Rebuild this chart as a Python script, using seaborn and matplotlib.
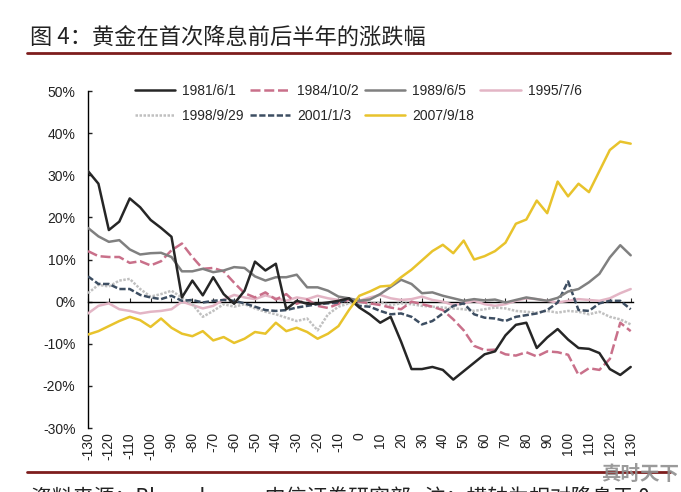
import seaborn as sns
import matplotlib.pyplot as plt
from matplotlib.lines import Line2D
from matplotlib.ticker import PercentFormatter

# relative trading days around the first rate cut
days = list(range(-130, 131, 5))

# gold price change (%) for each cut date, every 5 days
s1981 = [31.0, 28.0, 17.0, 19.0, 24.5, 22.4, 19.4, 17.5, 15.4, 1.0, 5.0, 1.5, 5.8, 1.8,
         -0.5, 2.6, 9.5, 7.4, 9.0, -1.8, 0.2, -0.5, -0.5, -0.2, 0.2, 0.8, -1.4, -3.0,
         -5.0, -3.6, -9.5, -16.0, -16.0, -15.5, -16.2, -18.5, -16.5, -14.5, -12.5, -11.8,
         -8.0, -5.5, -5.0, -11.0, -8.5, -6.5, -9.0, -11.0, -11.2, -12.2, -16.0, -17.4, -15.5]
s1984 = [12.0, 10.8, 10.6, 10.6, 9.2, 9.6, 8.6, 9.6, 12.2, 13.8, 10.6, 7.8, 8.0, 7.2,
         4.5, 2.0, 1.0, 2.2, 0.5, 1.8, -0.5, 0.5, -1.0, -1.5, -0.5, 0.5, 0.0, -0.4,
         -0.8, -1.4, -1.8, 0.0, -0.6, -1.2, -2.0, -4.2, -6.8, -10.5, -11.5, -11.4,
         -12.5, -12.8, -12.0, -13.0, -11.8, -12.0, -12.6, -17.4, -15.8, -16.2, -13.6, -5.0, -7.0]
s1989 = [17.5, 15.5, 14.2, 14.6, 12.4, 11.2, 11.5, 11.6, 10.6, 7.2, 7.2, 7.8, 7.0, 7.4,
         8.2, 8.0, 6.0, 5.0, 5.8, 5.8, 6.4, 3.4, 3.4, 2.6, 1.2, 0.8, 0.2, 0.5,
         1.8, 3.5, 5.2, 4.2, 2.0, 2.2, 1.4, 0.8, 0.2, 0.6, 0.3, 0.5,
         -0.2, 0.4, 1.0, 0.6, 0.2, 0.9, 2.4, 3.0, 4.6, 6.6, 10.5, 13.4, 11.0]
s1995 = [-2.8, -1.0, -0.4, -1.8, -2.2, -2.8, -2.4, -2.2, -1.8, 0.0, -0.8, -1.6, -1.0, 0.5,
         1.6, 1.0, 0.6, 1.5, 0.8, 0.2, 1.0, 0.6, 1.4, 0.8, 0.4, 0.6, 0.2, 1.0,
         1.6, 0.8, 0.4, 0.6, 1.2, 0.4, 0.0, -0.8, -0.4, 0.2, -0.6, -1.0,
         -0.6, 0.2, 0.8, 0.6, 0.2, -0.2, 0.2, 0.6, 0.4, 0.2, 0.8, 2.0, 3.0]
s1998 = [2.0, 4.0, 3.6, 5.0, 5.4, 3.0, 1.2, 1.8, 2.6, 1.0, -0.6, -3.6, -2.2, -0.6,
         -1.2, -0.6, -1.6, -2.4, -3.0, -3.8, -4.6, -4.0, -6.8, -3.0, -1.2, -0.4, 0.0, -0.6,
         -0.2, -0.8, -0.4, -0.6, -1.0, -1.2, -1.4, -1.6, -1.8, -2.2, -1.8, -1.4,
         -1.6, -2.2, -2.4, -2.6, -2.2, -2.6, -2.2, -2.4, -3.0, -2.4, -3.6, -4.2, -5.4]
s2001 = [6.0, 4.2, 4.2, 3.0, 3.0, 1.6, 1.0, 0.6, 1.4, 0.2, 0.4, -0.2, 0.2, 0.4,
         0.2, -0.4, -1.2, -2.0, -2.2, -2.0, -1.4, -1.0, -0.6, -0.4, -0.2, 0.6, -1.0, -1.2,
         -2.2, -3.0, -2.8, -3.6, -5.4, -4.6, -2.8, -1.0, -0.4, -3.0, -3.8, -4.0,
         -4.6, -3.6, -3.2, -2.8, -2.0, -0.2, 4.8, -2.0, -2.2, -0.4, 0.2, 0.2, -1.8]
s2007 = [-7.8, -7.0, -5.8, -4.6, -3.6, -4.4, -6.0, -4.0, -6.2, -7.6, -8.2, -7.0, -9.2, -8.4,
         -9.8, -8.8, -7.2, -7.6, -5.0, -7.0, -6.2, -7.2, -8.8, -7.6, -5.8, -2.0, 1.4, 2.4,
         3.6, 3.8, 5.8, 7.6, 9.8, 12.0, 13.5, 11.5, 14.5, 10.0, 10.8, 12.0,
         14.0, 18.5, 19.5, 24.0, 21.0, 28.5, 25.0, 28.0, 26.0, 31.0, 36.0, 38.0, 37.5]

labels = ['1981/6/1', '1984/10/2', '1989/6/5', '1995/7/6', '1998/9/29', '2001/1/3', '2007/9/18']
series = [s1981, s1984, s1989, s1995, s1998, s2001, s2007]
colors = ['#262626', '#c9708a', '#808080', '#e3b5c5', '#c0c0c0', '#3d4e62', '#e8c32c']
styles = ['-', (0, (4, 1.5)), '-', '-', (0, (1, 0.6)), (0, (2.5, 1)), '-']
zorders = [6, 4, 5, 3, 3.5, 4.5, 7]

sns.set_style('white')
plt.rcParams['font.family'] = ['Liberation Sans', 'Noto Sans CJK SC', 'DejaVu Sans']
plt.rcParams['axes.unicode_minus'] = False

fig = plt.figure(figsize=(6.81, 4.92), dpi=100)
ax = fig.add_axes([0.1292, 0.130, 0.800, 0.685])

for lab, vals, c, ls, z in zip(labels, series, colors, styles, zorders):
    sns.lineplot(x=days, y=vals, ax=ax, color=c, linestyle=ls, linewidth=1.8,
                 label=lab, zorder=z)

ax.set_xlim(-130, 131)
ax.set_ylim(-30, 50)
ax.set_yticks(range(-30, 51, 10))
ax.yaxis.set_major_formatter(PercentFormatter(xmax=100, decimals=0))
ax.tick_params(axis='y', direction='in', length=3, width=1, pad=9,
               labelsize=10, colors='#222222', left=True)

# zero line with small ticks, labels pushed to the bottom
ax.spines['bottom'].set_position(('data', 0))
ax.spines['bottom'].set_color('black')
ax.spines['bottom'].set_linewidth(1)
ax.spines['left'].set_color('black')
ax.spines['left'].set_linewidth(1)
ax.spines['top'].set_visible(False)
ax.spines['right'].set_visible(False)
ax.set_xticks(range(-130, 131, 10))
ax.tick_params(axis='x', direction='in', length=3, width=0.8, bottom=True, labelbottom=False)

sec = ax.secondary_xaxis(0)
sec.set_xticks(range(-130, 131, 10))
sec.spines['bottom'].set_visible(False)
sec.tick_params(axis='x', length=0, pad=3, labelsize=10, rotation=90, colors='#222222')
ax.set_xlabel('')
ax.set_ylabel('')

# legend: 4 columns filled row-wise
handles, labs = ax.get_legend_handles_labels()
order = [0, 4, 1, 5, 2, 6, 3]
ax.legend([handles[i] for i in order], [labs[i] for i in order], ncol=4,
          loc='upper left', bbox_to_anchor=(0.086, 1.022), frameon=False,
          fontsize=10, handlelength=2.9, handletextpad=0.5, columnspacing=0.45,
          labelspacing=0.8, borderpad=0, borderaxespad=0)

cjk = ['Noto Sans CJK SC', 'DejaVu Sans']
fig.text(0.044, 0.923, '图 4：黄金在首次降息前后半年的涨跌幅', fontsize=16,
         family=cjk, color='#222222', va='center', ha='left')
fig.add_artist(Line2D([0.04, 0.984], [0.892, 0.892], color='#7d1d1d', lw=2))
fig.add_artist(Line2D([0.04, 0.984], [0.041, 0.041], color='#7d1d1d', lw=2))
fig.text(0.046, 0.012, '资料来源：Bloomberg，中信证券研究部   注：横轴为相对降息于 0',
         fontsize=15, family=cjk, color='#222222', va='top', ha='left')
fig.text(0.997, 0.036, '真时天下', fontsize=14, family=cjk, fontweight='bold',
         color='#8f8f8f', va='center', ha='right', alpha=0.9)

fig.savefig('out.png', dpi=100)
